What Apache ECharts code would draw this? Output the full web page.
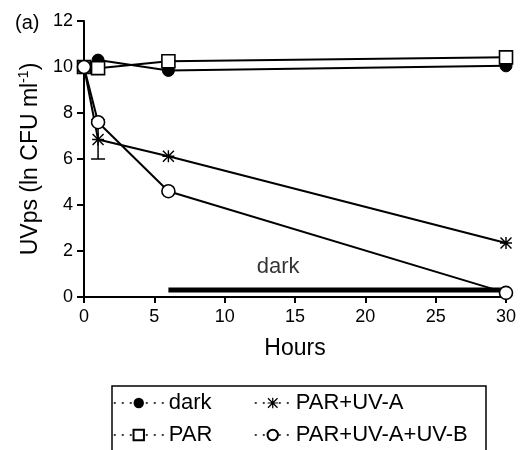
<!DOCTYPE html>
<html>
<head>
<meta charset="utf-8">
<script src="https://cdn.jsdelivr.net/npm/echarts@6/dist/echarts.min.js"></script>
<style>
html,body{margin:0;padding:0;background:#fff;}
#chart{width:520px;height:450px;}
</style>
</head>
<body>
<div id="chart"></div>
<script>
// ---- data ----
const hours = [0, 1, 6, 30];
const darkVals = [10.0, 10.3, 9.85, 10.05];
const parVals = [10.0, 9.95, 10.25, 10.42];
const parUvAVals = [10.0, 6.85, 6.12, 2.35];
const parUvABVals = [10.0, 7.6, 4.6, 0.18];
const errHours = [1];
const errLow = [6.0];
const errHigh = [7.7];
const darkPeriodHours = [6, 30];
const darkPeriodLevel = 0.3;
const darkLabelPos = [13.8, 1.3];
const seriesNames = ['dark', 'PAR', 'PAR+UV-A', 'PAR+UV-A+UV-B'];
const xTickInterval = 5;
const yTickInterval = 2;

const FONT = '"Liberation Sans", Arial, sans-serif';
const asterisk = 'path://M8.8 0 L11.2 0 L11.2 20 L8.8 20 Z M0 8.8 L20 8.8 L20 11.2 L0 11.2 Z M0 1.7 L1.7 0 L20 18.3 L18.3 20 Z M18.3 0 L20 1.7 L1.7 20 L0 18.3 Z';

function pairs(xs, ys) { return xs.map((x, i) => [x, ys[i]]); }

const chart = echarts.init(document.getElementById('chart'), null, {renderer: 'canvas'});

const lineBase = {
  type: 'line',
  clip: false,
  lineStyle: {color: '#000', width: 2},
  itemStyle: {color: '#000', borderColor: '#000'},
  emphasis: {disabled: true},
  animation: false
};

const legendText = {fontFamily: FONT, fontSize: 22, lineHeight: 22, color: '#000'};

const option = {
  animation: false,
  backgroundColor: '#fff',
  textStyle: {fontFamily: FONT, color: '#000'},
  title: {
    text: '(a)', left: 10, top: 8,
    textStyle: {fontFamily: FONT, fontSize: 20, fontWeight: 'normal', color: '#000'}
  },
  grid: {left: 84, right: 14, top: 21, bottom: 153, containLabel: false},
  xAxis: {
    type: 'value', min: 0, max: 30, interval: xTickInterval,
    name: 'Hours', nameLocation: 'middle', nameGap: 40,
    nameTextStyle: {fontFamily: FONT, fontSize: 23, color: '#000'},
    axisLine: {show: true, lineStyle: {color: '#000', width: 2}},
    axisTick: {show: true, length: 6, inside: false, lineStyle: {color: '#000', width: 2}},
    axisLabel: {fontFamily: FONT, fontSize: 18, color: '#000', margin: 11},
    splitLine: {show: false}
  },
  yAxis: {
    type: 'value', min: 0, max: 12, interval: yTickInterval,
    name: 'UVps (ln CFU ml{sup|-1})', nameLocation: 'middle', nameGap: 40,
    nameTextStyle: {
      fontFamily: FONT, fontSize: 23, color: '#000',
      rich: {sup: {fontFamily: FONT, fontSize: 14, color: '#000', padding: [0, 0, 13, 0]}}
    },
    axisLine: {show: true, lineStyle: {color: '#000', width: 2}},
    axisTick: {show: true, length: 7, inside: false, lineStyle: {color: '#000', width: 2}},
    axisLabel: {fontFamily: FONT, fontSize: 18, color: '#000', margin: 11},
    splitLine: {show: false}
  },
  legend: [
    {
      data: ['dark', 'PAR'], orient: 'vertical', left: 108, top: 387, height: 80, width: 130,
      itemWidth: 50, itemHeight: 13, itemGap: 10,
      textStyle: legendText,
      lineStyle: {type: [2, 6], width: 1.5, color: '#000'},
      selectedMode: false
    },
    {
      data: ['PAR+UV-A', 'PAR+UV-A+UV-B'], orient: 'vertical', left: 249, top: 387, height: 80, width: 240,
      itemWidth: 36, itemHeight: 13, itemGap: 10,
      textStyle: legendText,
      lineStyle: {type: [2, 6], width: 1.5, color: '#000'},
      selectedMode: false
    }
  ],
  graphic: [
    {type: 'rect', shape: {x: 112, y: 386, width: 374, height: 70},
     style: {fill: 'none', stroke: '#000', lineWidth: 1.5}, silent: true}
  ],
  series: [
    {
      type: 'line', name: 'darkPeriod', data: pairs(darkPeriodHours, darkPeriodHours.map(() => darkPeriodLevel)),
      showSymbol: false, symbol: 'none', lineStyle: {color: '#000', width: 5}, z: 1, clip: false,
      emphasis: {disabled: true}
    },
    {
      type: 'scatter', name: 'darkLabel', data: [darkLabelPos], symbolSize: 0,
      label: {show: true, position: 'inside', formatter: 'dark', fontFamily: FONT, fontSize: 22, color: '#000'},
      emphasis: {disabled: true}, silent: true
    },
    Object.assign({}, lineBase, {
      name: seriesNames[0], data: pairs(hours, darkVals),
      symbol: 'circle', symbolSize: 12
    }),
    Object.assign({}, lineBase, {
      name: seriesNames[1], data: pairs(hours, parVals),
      symbol: 'rect', symbolSize: 13,
      itemStyle: {color: '#fff', borderColor: '#000', borderWidth: 1.6}
    }),
    Object.assign({}, lineBase, {
      name: seriesNames[2], data: pairs(hours, parUvAVals),
      symbol: asterisk, symbolSize: 12,
      itemStyle: {color: '#000', borderWidth: 0}
    }),
    {
      type: 'custom', name: 'err',
      data: errHours.map((h, i) => [h, errLow[i], errHigh[i]]),
      renderItem: function (params, api) {
        const x = api.value(0);
        const lo = api.coord([x, api.value(1)]);
        const hi = api.coord([x, api.value(2)]);
        const cap = 7;
        return {
          type: 'group',
          children: [
            {type: 'line', shape: {x1: lo[0], y1: lo[1], x2: hi[0], y2: hi[1]}, style: {stroke: '#000', lineWidth: 1.5}},
            {type: 'line', shape: {x1: lo[0] - cap, y1: lo[1], x2: lo[0] + cap, y2: lo[1]}, style: {stroke: '#000', lineWidth: 1.5}},
            {type: 'line', shape: {x1: hi[0] - cap, y1: hi[1], x2: hi[0] + cap, y2: hi[1]}, style: {stroke: '#000', lineWidth: 1.5}}
          ]
        };
      },
      silent: true
    },
    Object.assign({}, lineBase, {
      name: seriesNames[3], data: pairs(hours, parUvABVals),
      symbol: 'circle', symbolSize: 13,
      itemStyle: {color: '#fff', borderColor: '#000', borderWidth: 1.6}
    })
  ]
};

chart.setOption(option);
</script>
</body>
</html>
